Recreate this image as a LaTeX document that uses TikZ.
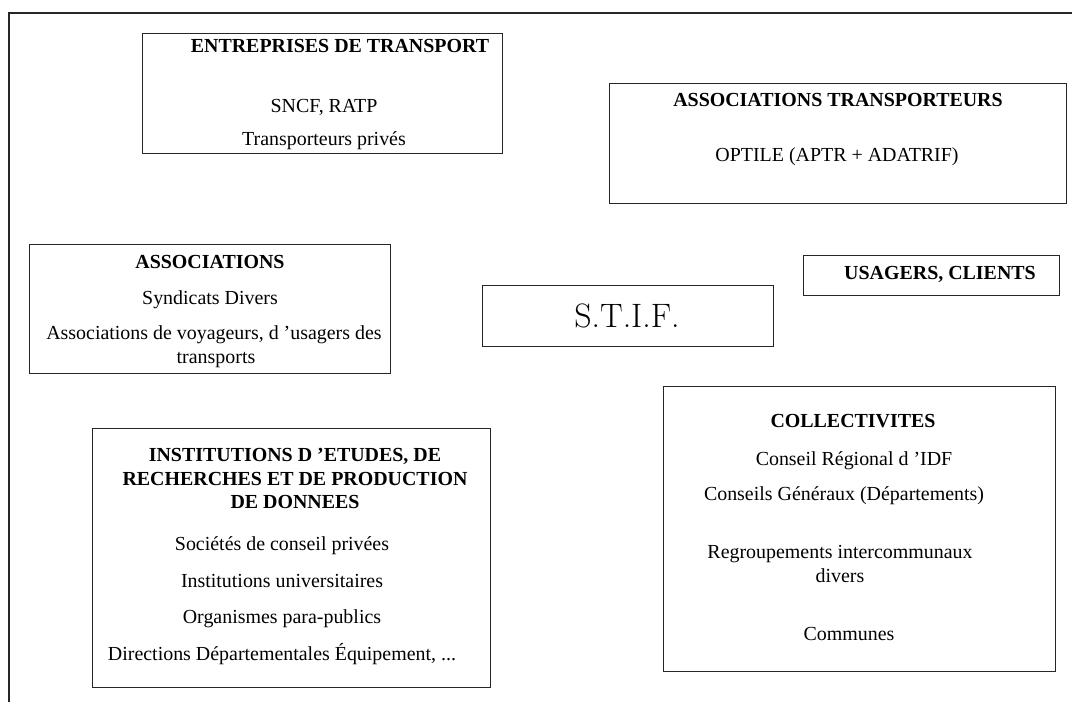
\documentclass[tikz,border=0pt]{standalone}
\usepackage{fontspec}
\newfontfamily\txtfont{Liberation Serif}
\begin{document}
\begin{tikzpicture}[x=1bp,y=-1bp,
  box/.style={draw=black!85, line width=1.1bp, inner sep=0pt, anchor=north west},
  lbl/.style={font=\txtfont\fontsize{20}{24}\selectfont, inner sep=0pt, text height=14bp, text depth=4bp},
  ttl/.style={font=\txtfont\bfseries\fontsize{20}{24}\selectfont, inner sep=0pt, text height=14bp, text depth=4bp}]
\useasboundingbox (0,0) rectangle (1072,702);
% outer frame (only top and left edges are visible)
\draw[black!85, line width=1.1bp] (9,702) -- (9,13) -- (1072,13);

% boxes
\node[box, minimum width=360bp, minimum height=120bp] (ent) at (142,33) {};
\node[box, minimum width=457bp, minimum height=120bp] (asst) at (609,83) {};
\node[box, minimum width=361bp, minimum height=129bp] (assoc) at (29,244) {};
\node[box, minimum width=291bp, minimum height=61bp] (stif) at (482,285) {};
\node[box, minimum width=256bp, minimum height=40bp] (usa) at (803,255) {};
\node[box, minimum width=398bp, minimum height=259bp] (inst) at (92,428) {};
\node[box, minimum width=392bp, minimum height=285bp] (coll) at (663,386) {};

% ENTREPRISES DE TRANSPORT
\node[ttl] (ent1) at (340,48) {ENTREPRISES DE TRANSPORT};
\node[lbl] (ent2) at (324,108) {SNCF, RATP};
\node[lbl] (ent3) at (324,141) {Transporteurs privés};

% ASSOCIATIONS TRANSPORTEURS
\node[ttl] (asst1) at (838,102) {ASSOCIATIONS TRANSPORTEURS};
\node[lbl] (asst2) at (837,157) {OPTILE (APTR + ADATRIF)};

% ASSOCIATIONS
\node[ttl] (assoc1) at (210,263) {ASSOCIATIONS};
\node[lbl] (assoc2) at (210,299) {Syndicats Divers};
\node[lbl] (assoc3) at (214,334) {Associations de voyageurs, d ’usagers des};
\node[lbl] (assoc4) at (216,358) {transports};

% S.T.I.F.
\node[font=\fontsize{34}{40}\selectfont, inner sep=0pt] (stif1) at (627,316) {S.T.I.F.};

% USAGERS, CLIENTS
\node[ttl] (usa1) at (940,274) {USAGERS, CLIENTS};

% INSTITUTIONS
\node[ttl] (inst1) at (295,456) {INSTITUTIONS D ’ETUDES, DE};
\node[ttl] (inst2) at (295,480) {RECHERCHES ET DE PRODUCTION};
\node[ttl] (inst3) at (295,503) {DE DONNEES};
\node[lbl] (inst4) at (282,545) {Sociétés de conseil privées};
\node[lbl] (inst5) at (282,582) {Institutions universitaires};
\node[lbl] (inst6) at (282,618) {Organismes para-publics};
\node[lbl] (inst7) at (282,655) {Directions Départementales Équipement, ...};

% COLLECTIVITES
\node[ttl] (coll1) at (853,422) {COLLECTIVITES};
\node[lbl] (coll2) at (854,460) {Conseil Régional d ’IDF};
\node[lbl] (coll3) at (844,495) {Conseils Généraux (Départements)};
\node[lbl] (coll4) at (840,553) {Regroupements intercommunaux};
\node[lbl] (coll5) at (840,577) {divers};
\node[lbl] (coll6) at (849,635) {Communes};
\end{tikzpicture}
\end{document}
